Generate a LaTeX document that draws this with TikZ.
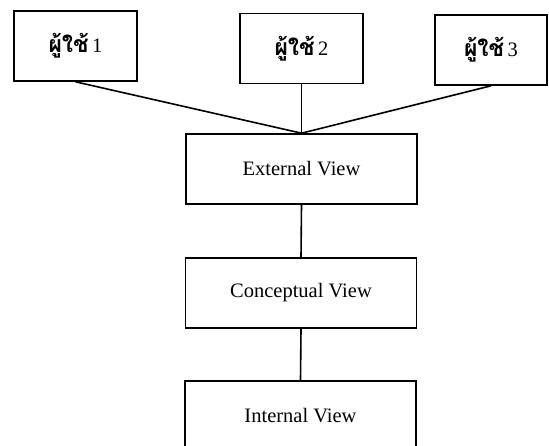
\documentclass[tikz,border=0pt]{standalone}
\usepackage{fontspec}
\setmainfont{Liberation Serif}
\newfontfamily\thaifont[Script=Thai]{Loma}
\newcommand{\userlabel}[1]{{\thaifont\bfseries\fontsize{23}{26}\selectfont ผู้ใช้}\,#1}
\begin{document}
\begin{tikzpicture}[x=1pt,y=-1pt,
  box/.style={draw, line width=1.6pt, rectangle, inner sep=0pt,
              minimum height=70pt, font=\fontsize{20.5}{24}\selectfont},
  userbox/.style={box, minimum width=123pt},
  viewbox/.style={box, minimum width=231pt},
  link/.style={line width=1.6pt}]
  \clip (0,0) rectangle (549,445);
  % users
  \node[userbox] (u1) at (75.5,46) {\userlabel{1}};
  \node[userbox] (u2) at (301.5,48.5) {\userlabel{2}};
  \node[box, minimum width=112pt] (u3) at (491,50) {\userlabel{3}};
  % levels
  \node[viewbox] (ext) at (301.5,169) {External View};
  \node[viewbox] (con) at (301,293) {Conceptual View};
  \node[viewbox] (int) at (300.5,416) {Internal View};
  % connectors
  \draw[link] (u1.south) -- (ext.north);
  \draw[link] (u2.south) -- (ext.north);
  \draw[link] (u3.south) -- (ext.north);
  \draw[link] (ext.south) -- (con.north);
  \draw[link] (con.south) -- (int.north);
\end{tikzpicture}
\end{document}
